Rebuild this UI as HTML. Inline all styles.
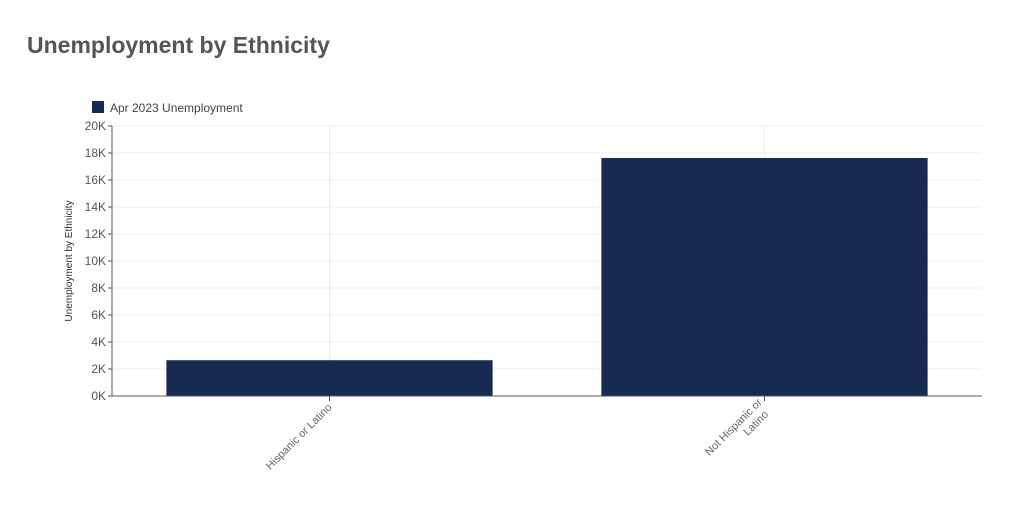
<!DOCTYPE html>
<html><head><meta charset="utf-8"><style>
body{margin:0;background:#fff;font-family:"Liberation Sans",sans-serif;}
</style></head><body>
<svg width="1024" height="524" xmlns="http://www.w3.org/2000/svg">
<text x="27" y="53" font-size="23" font-weight="bold" fill="#555">Unemployment by Ethnicity</text>
<g>
<rect x="92" y="101" width="12" height="12" fill="#172a52"/>
<text x="110" y="112" font-size="12" fill="#444">Apr 2023 Unemployment</text>
</g>
<text transform="translate(72,261) rotate(-90)" text-anchor="middle" font-size="10" fill="#333">Unemployment by Ethnicity</text>
<g id="grid"></g><g id="bars"></g><g id="axes"></g>
</svg>
<script>
const categories=["Hispanic or Latino","Not Hispanic or Latino"];
const labelLines=[["Hispanic or Latino"],["Not Hispanic or","Latino"]];
const values=[2650,17630];
const yTicks=[0,2000,4000,6000,8000,10000,12000,14000,16000,18000,20000];
const yTickLabels=["0K","2K","4K","6K","8K","10K","12K","14K","16K","18K","20K"];
const NS="http://www.w3.org/2000/svg";
const x0=112,x1=982,yBase=396,yTop=126,yMax=20000;
const y=v=>yBase-(v/yMax)*(yBase-yTop);
const band=(x1-x0)/categories.length;
const xc=i=>x0+band*(i+0.5);
function mk(t,a,p){const e=document.createElementNS(NS,t);for(const k in a)e.setAttribute(k,a[k]);p.appendChild(e);return e;}
const g=document.getElementById('grid'),b=document.getElementById('bars'),ax=document.getElementById('axes');
yTicks.forEach((t,i)=>{
 const l=mk('line',{x1:x0,x2:x1,y1:y(t),y2:y(t),stroke:'#ececec'},g);
 
 
 mk('line',{x1:x0-4,x2:x0,y1:y(t),y2:y(t),stroke:'#555'},ax);
 const tx=mk('text',{x:x0-6,y:y(t)+4,'text-anchor':'end','font-size':12,fill:'#555'},ax);
 tx.textContent=yTickLabels[i];
 
 
});
categories.forEach((c,i)=>{
 const vl=mk('line',{x1:xc(i),x2:xc(i),y1:yTop,y2:yBase,stroke:'#ececec'},g);
 
 
 const w=band*0.75;
 const r=mk('rect',{x:xc(i)-w/2,y:y(values[i]),width:w,height:yBase-y(values[i]),fill:'#172a52'},b);
 
 
 mk('line',{x1:xc(i),x2:xc(i),y1:yBase,y2:yBase+5,stroke:'#555'},ax);
 const t=mk('text',{transform:`translate(${xc(i)+3},${yBase+12}) rotate(-45)`,'text-anchor':'end','font-size':11,fill:'#666'},ax);
 
 
 const lines=labelLines[i];
 lines.forEach((s,j)=>{const ts=mk('tspan',{x:0,y:(j-(lines.length-1))*13+(lines.length>1?0:0)},t);ts.textContent=s;});
 if(lines.length>1){t.querySelectorAll('tspan').forEach((ts,j)=>ts.setAttribute('y',(j-lines.length+1)*13+6));t.setAttribute('text-anchor','end');t.querySelectorAll('tspan')[1].setAttribute('x',-4);}
});
mk('line',{x1:x0,x2:x0,y1:yTop,y2:yBase,stroke:'#555'},ax);
mk('line',{x1:x0,x2:x1,y1:yBase,y2:yBase,stroke:'#555'},ax);
</script>
</body></html>
